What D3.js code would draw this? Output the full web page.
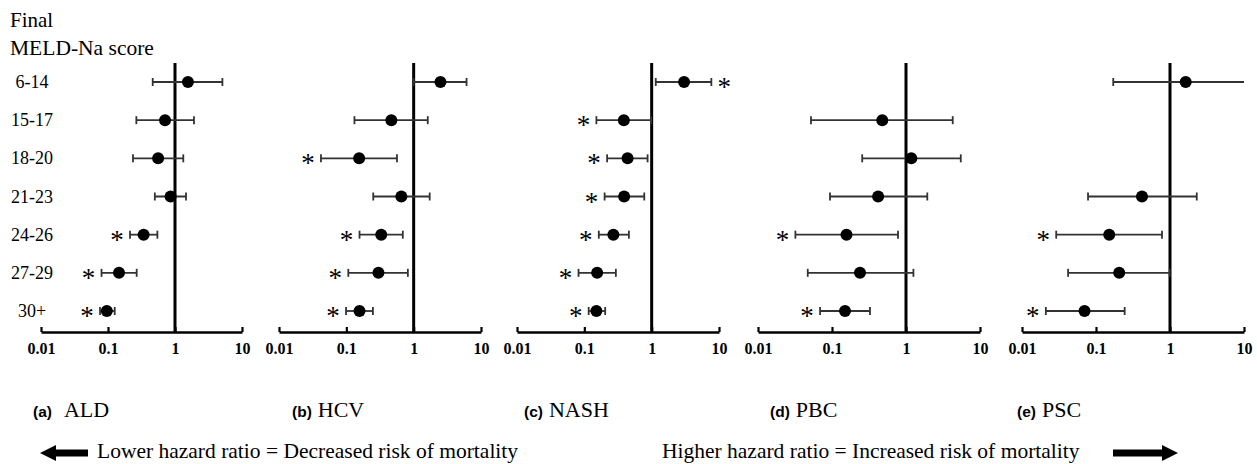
<!DOCTYPE html>
<html>
<head>
<meta charset="utf-8">
<script src="https://cdn.jsdelivr.net/npm/d3@7/dist/d3.min.js"></script>
<style>
  body { margin: 0; background: #fff; }
</style>
</head>
<body>
<div id="chart"></div>
<script>
// rows of every panel
const scores = ["6-14", "15-17", "18-20", "21-23", "24-26", "27-29", "30+"];
const panelLetters = ["(a)", "(b)", "(c)", "(d)", "(e)"];
const diseases = ["ALD", "HCV", "NASH", "PBC", "PSC"];
const tickValues = [0.01, 0.1, 1, 10];

// hazard ratio, lower / upper CI, significance (null = no estimate)
const aldHR  = [1.56, 0.71, 0.56, 0.86, 0.34, 0.146, 0.096];
const aldLo  = [0.465, 0.265, 0.236, 0.50, 0.213, 0.08, 0.076];
const aldHi  = [5.1, 1.92, 1.33, 1.46, 0.546, 0.268, 0.126];
const aldSig = [0, 0, 0, 0, 1, 1, 1];

const hcvHR  = [2.5, 0.466, 0.155, 0.656, 0.33, 0.30, 0.157];
const hcvLo  = [1.0, 0.132, 0.042, 0.251, 0.157, 0.107, 0.099];
const hcvHi  = [6.1, 1.62, 0.565, 1.73, 0.69, 0.82, 0.248];
const hcvSig = [0, 0, 1, 0, 1, 1, 1];

const nashHR  = [3.03, 0.386, 0.439, 0.39, 0.27, 0.155, 0.151];
const nashLo  = [1.15, 0.151, 0.218, 0.20, 0.164, 0.082, 0.116];
const nashHi  = [7.7, 0.98, 0.87, 0.776, 0.459, 0.294, 0.204];
const nashSig = [1, 1, 1, 1, 1, 1, 1];

const pbcHR  = [null, 0.478, 1.18, 0.42, 0.157, 0.239, 0.15];
const pbcLo  = [null, 0.052, 0.256, 0.094, 0.032, 0.047, 0.069];
const pbcHi  = [null, 4.28, 5.5, 1.94, 0.78, 1.26, 0.326];
const pbcSig = [0, 0, 0, 0, 1, 0, 1];

const pscHR  = [1.63, null, null, 0.418, 0.151, 0.206, 0.07];
const pscLo  = [0.171, null, null, 0.078, 0.029, 0.042, 0.021];
const pscHi  = [12, null, null, 2.3, 0.78, 0.99, 0.244];
const pscSig = [0, 0, 0, 0, 1, 0, 1];

const panelData = [
  { hr: aldHR, lo: aldLo, hi: aldHi, sig: aldSig },
  { hr: hcvHR, lo: hcvLo, hi: hcvHi, sig: hcvSig },
  { hr: nashHR, lo: nashLo, hi: nashHi, sig: nashSig },
  { hr: pbcHR, lo: pbcLo, hi: pbcHi, sig: pbcSig },
  { hr: pscHR, lo: pscLo, hi: pscHi, sig: pscSig },
];

// pixel span of each panel's log axis, and where its title starts
const panelRange = [[41, 242], [279, 481], [517, 719], [758, 980], [1022, 1244]];
const titleX = [33, 292, 524, 770, 1017];

const width = 1257, height = 464;
const axisY = 332, refTop = 63;
const serif = "'Liberation Serif', 'Times New Roman', serif";
const sans = "'Liberation Sans', Arial, sans-serif";

const svg = d3.select("#chart")
  .append("svg")
  .attr("width", width)
  .attr("height", height);

const y = d3.scalePoint()
  .domain(scores)
  .range([82, 311]);

// header
svg.append("text")
  .attr("x", 10).attr("y", 27)
  .style("font-family", serif).style("font-size", "21px")
  .text("Final");
svg.append("text")
  .attr("x", 10).attr("y", 55)
  .style("font-family", serif).style("font-size", "21.5px")
  .text("MELD-Na score");

// row labels
svg.selectAll(".rowlab")
  .data(scores)
  .enter()
  .append("text")
  .attr("class", "rowlab")
  .attr("x", 32)
  .attr("y", d => y(d) + 6)
  .attr("text-anchor", "middle")
  .style("font-family", serif).style("font-size", "18px")
  .text(d => d);

panelData.forEach((p, i) => {
  const x = d3.scaleLog()
    .domain([0.01, 10])
    .range(panelRange[i]);

  const g = svg.append("g");

  // x axis, ticks pointing up
  const axis = d3.axisBottom(x)
    .tickValues(tickValues)
    .tickFormat(d => String(d))
    .tickSizeInner(-5)
    .tickSizeOuter(0)
    .tickPadding(11);

  const ax = g.append("g")
    .attr("transform", `translate(0,${axisY})`)
    .call(axis);
  ax.select(".domain").attr("stroke", "#000").attr("stroke-width", 2.6);
  ax.selectAll(".tick line").attr("stroke", "#000").attr("stroke-width", 2.2);
  ax.selectAll(".tick text")
    .attr("fill", "#000")
    .style("font-family", serif)
    .style("font-size", "16px")
    .style("font-weight", "bold");

  // reference line at HR = 1
  g.append("line")
    .attr("x1", x(1)).attr("x2", x(1))
    .attr("y1", refTop).attr("y2", axisY)
    .attr("stroke", "#000")
    .attr("stroke-width", 3);

  const rows = scores.map((s, j) => ({
    score: s, hr: p.hr[j], lo: p.lo[j], hi: p.hi[j], sig: p.sig[j]
  })).filter(d => d.hr != null);

  const clampX = v => x(Math.max(0.01, Math.min(10, v)));

  // confidence intervals
  g.selectAll(".ci")
    .data(rows)
    .enter()
    .append("line")
    .attr("x1", d => clampX(d.lo))
    .attr("x2", d => clampX(d.hi))
    .attr("y1", d => y(d.score))
    .attr("y2", d => y(d.score))
    .attr("stroke", "#333")
    .attr("stroke-width", 1.8);

  const caps = [];
  rows.forEach(d => {
    if (d.lo >= 0.01) caps.push({ score: d.score, v: d.lo });
    if (d.hi <= 10) caps.push({ score: d.score, v: d.hi });
  });
  g.selectAll(".cap")
    .data(caps)
    .enter()
    .append("line")
    .attr("x1", d => x(d.v)).attr("x2", d => x(d.v))
    .attr("y1", d => y(d.score) - 4)
    .attr("y2", d => y(d.score) + 4)
    .attr("stroke", "#333")
    .attr("stroke-width", 1.8);

  // point estimates
  g.selectAll("circle")
    .data(rows)
    .enter()
    .append("circle")
    .attr("cx", d => x(d.hr))
    .attr("cy", d => y(d.score))
    .attr("r", 6)
    .attr("fill", "#000");

  // significance markers
  g.selectAll(".sig")
    .data(rows.filter(d => d.sig))
    .enter()
    .append("text")
    .attr("x", d => d.hr < 1 ? x(d.lo) - 13 : x(d.hi) + 13)
    .attr("y", d => y(d.score) + 14)
    .attr("text-anchor", "middle")
    .attr("fill", "#000")
    .style("font-family", serif)
    .style("font-size", "27px")
    .text("*");

  // panel title
  const t = svg.append("text")
    .attr("x", titleX[i])
    .attr("y", 417);
  t.append("tspan")
    .style("font-family", sans)
    .style("font-size", "15.5px")
    .style("font-weight", "bold")
    .text(panelLetters[i]);
  t.append("tspan")
    .attr("dx", i === 0 ? 12 : 6)
    .style("font-family", serif)
    .style("font-size", "22px")
    .text(diseases[i]);
});

// direction arrows at the bottom
const arrowL = [[40, 453], [56, 445], [56, 449.5], [88, 449.5], [88, 456.5], [56, 456.5], [56, 461]];
const arrowR = [[1178, 453], [1162, 445], [1162, 449.5], [1113, 449.5], [1113, 456.5], [1162, 456.5], [1162, 461]];
svg.append("path")
  .attr("d", d3.line()(arrowL) + "Z")
  .attr("fill", "#000");
svg.append("path")
  .attr("d", d3.line()(arrowR) + "Z")
  .attr("fill", "#000");

svg.append("text")
  .attr("x", 97).attr("y", 458)
  .style("font-family", serif).style("font-size", "21.5px")
  .text("Lower hazard ratio = Decreased risk of mortality");
svg.append("text")
  .attr("x", 662).attr("y", 458)
  .style("font-family", serif).style("font-size", "21.5px")
  .text("Higher hazard ratio = Increased risk of mortality");
</script>
</body>
</html>
